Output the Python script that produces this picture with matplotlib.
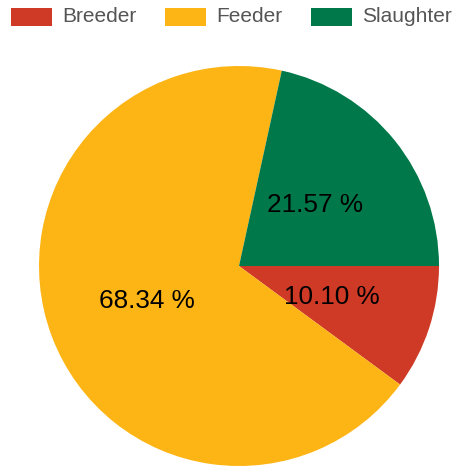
import matplotlib
matplotlib.use("Agg")
import matplotlib.pyplot as plt
from matplotlib.patches import Rectangle

plt.rcParams['font.family'] = ['Liberation Sans', 'DejaVu Sans']

labels = ['Breeder', 'Feeder', 'Slaughter']
values = [10.10, 68.34, 21.57]
colors = ['#CF3A26', '#FDB515', '#00784A']

W, H = 455, 466
fig = plt.figure(figsize=(W / 100, H / 100), dpi=100)

# pie axes: centre (239, 266) px, radius 200 px
ax = fig.add_axes([39 / W, 0, 400 / W, 400 / H])
# show the values as given (they sum to 100.01, so don't let pie re-round them)
vals_iter = iter(values)
ax.pie(values, colors=colors, startangle=0, counterclock=False,
       autopct=lambda p: '%.2f %%' % next(vals_iter), pctdistance=0.49,
       textprops={'fontsize': 18.8, 'color': 'black'})
ax.set_xlim(-1, 1)
ax.set_ylim(-1, 1)
ax.set_aspect('equal')
ax.axis('off')

# legend across the top
box_x = [11, 165, 311]
for x, lab, col in zip(box_x, labels, colors):
    fig.patches.append(Rectangle((x / W, 1 - 26 / H), 41 / W, 18 / H,
                                 transform=fig.transFigure, facecolor=col,
                                 edgecolor='none'))
    fig.text((x + 51) / W, 1 - 17 / H, lab, fontsize=15, color='#555555',
             va='center', ha='left')

fig.savefig('out.png', dpi=100)
